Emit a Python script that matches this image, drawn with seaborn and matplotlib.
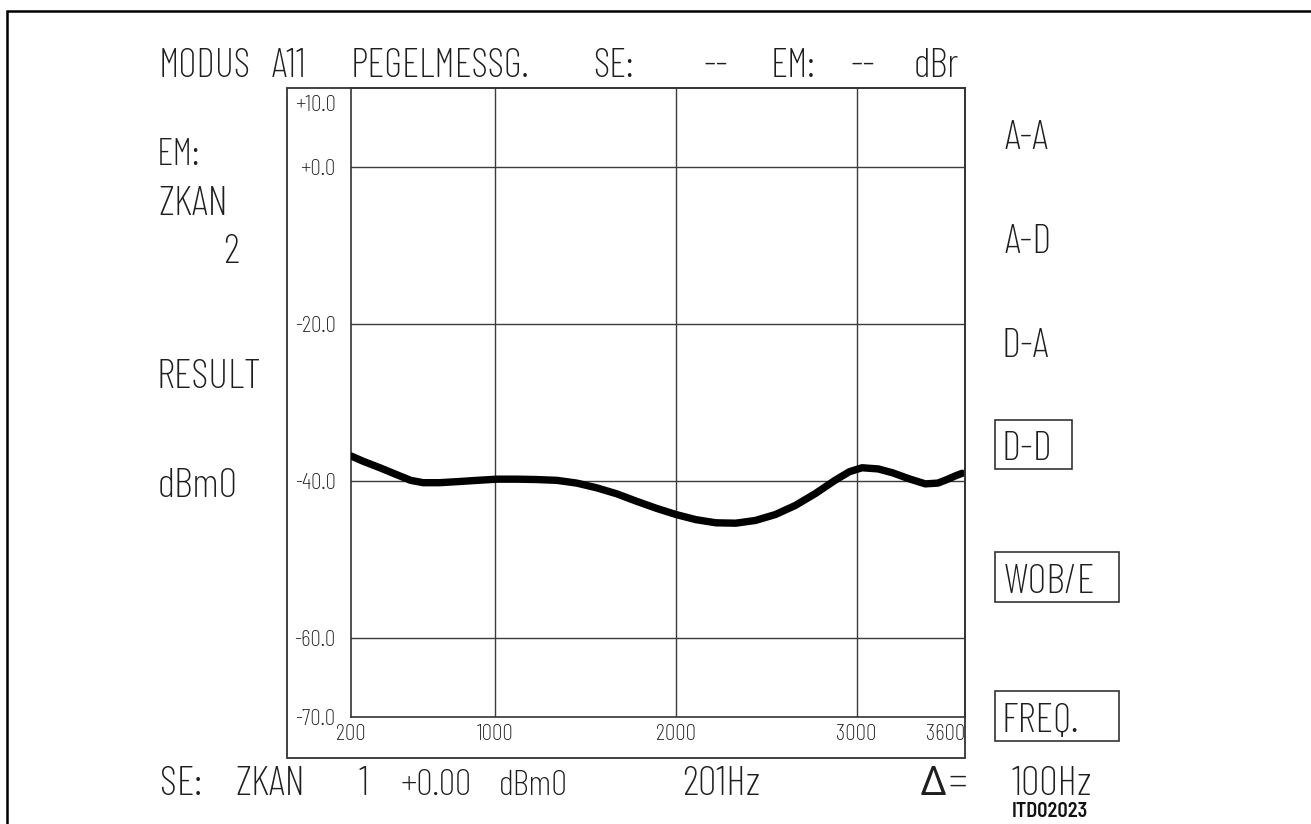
import numpy as np
import pandas as pd
import matplotlib
matplotlib.use("Agg")
import matplotlib.pyplot as plt
import seaborn as sns
from matplotlib import font_manager as fm
from matplotlib.font_manager import FontProperties
from matplotlib.textpath import TextPath
from matplotlib.patches import Rectangle
from matplotlib.lines import Line2D
from matplotlib.transforms import ScaledTranslation

# ---------------- data ----------------
freq_hz = [200, 270, 360, 450, 530, 600, 690, 800, 900, 1010, 1120, 1230,
           1340, 1450, 1560, 1670, 1780, 1890, 2000, 2110, 2220, 2330, 2440,
           2550, 2660, 2770, 2880, 2960, 3030, 3120, 3200, 3290, 3380, 3450,
           3500, 3550, 3585]
level_dbm0 = [-36.8, -37.5, -38.3, -39.15, -39.9, -40.2, -40.2, -40.05, -39.9,
              -39.75, -39.75, -39.8, -39.9, -40.25, -40.85, -41.6, -42.55,
              -43.45, -44.25, -44.9, -45.3, -45.35, -45.0, -44.25, -43.1,
              -41.6, -39.9, -38.8, -38.3, -38.45, -38.95, -39.7, -40.35,
              -40.25, -39.8, -39.3, -39.0]

y_ticks = [10, 0, -20, -40, -60, -70]
y_tick_labels = ["+10.0", "+0.0", "-20.0", "-40.0", "-60.0", "-70.0"]
y_grid = [0, -20, -40, -60]
x_ticks = [200, 1000, 2000, 3000, 3600]
x_tick_labels = ["200", "1000", "2000", "3000", "3600"]
x_grid = [1000, 2000, 3000]

title_tokens = ["MODUS", "A11", "PEGELMESSG.", "SE:", "--", "EM:", "--", "dBr"]
left_tokens = ["EM:", "ZKAN", "2", "RESULT", "dBm0"]
right_tokens = ["A-A", "A-D", "D-A", "D-D", "WOB/E", "FREQ."]
boxed_right = ["D-D", "WOB/E", "FREQ."]
bottom_tokens = ["SE:", "ZKAN", "1", "+0.00", "dBm0", "201Hz", "=", "100Hz"]
delta_sign = "\u0394"
figure_id = "ITD02023"

# ---------------- style ----------------
sns.set_theme(style="white")
plt.rcParams.update({
    "axes.edgecolor": "#333333",
    "axes.linewidth": 1.2,
    "xtick.major.size": 0,
    "ytick.major.size": 0,
    "axes.unicode_minus": False,
    "figure.facecolor": "white",
    "axes.facecolor": "white",
})

W, H, DPI = 1311, 824, 100
PT = DPI / 72.0
TXT = "#1e1e1e"


def font_by_file(names, fallback):
    files = {f.fname.split("/")[-1]: f.fname for f in fm.fontManager.ttflist}
    for n in names:
        if n in files:
            return FontProperties(fname=files[n])
    return fallback


FONT = font_by_file(["BarlowCondensed-ExtraLight.ttf", "BarlowCondensed-Light.ttf",
                     "AsapCondensed-ExtraLight.ttf", "AsapCondensed-Light.ttf"],
                    FontProperties(family=["Roboto", "DejaVu Sans"], weight="light"))
ID_FONT = font_by_file(["BarlowSemiCondensed-SemiBold.ttf", "AsapCondensed-SemiBold.ttf"],
                       FontProperties(family="DejaVu Sans", weight="bold"))
DELTA_FONT = FontProperties(family=["Noto Sans", "DejaVu Sans"], weight="light")

fig = plt.figure(figsize=(W / DPI, H / DPI), dpi=DPI)


def fit_size(s, cap, width, fp=FONT, slack=1.06):
    cap1 = TextPath((0, 0), "H", size=1, prop=fp).get_extents().height
    e = TextPath((0, 0), s, size=1, prop=fp).get_extents()
    s_cap = cap / (cap1 * PT)
    s_w = width / (e.width * PT)
    return min(s_cap, s_w * slack), e


def put(x0, x1, base, s, cap, fp=FONT, slack=1.06, align="center", color=TXT):
    size, e = fit_size(s, cap, x1 - x0, fp, slack)
    p = fp.copy()
    p.set_size(size)
    ink_w = e.width * size * PT
    if align == "center":
        left = (x0 + x1) / 2 - ink_w / 2
    elif align == "left":
        left = x0
    else:
        left = x1 - ink_w
    xa = left - e.x0 * size * PT
    fig.text(xa / W, 1 - base / H, s, fontproperties=p, ha="left",
             va="baseline", color=color)


# ---------------- main chart ----------------
ax = fig.add_axes([351 / W, 1 - 717 / H, 614 / W, 629 / H])
for g in y_grid:
    ax.axhline(g, color="#3c3c3c", lw=1.0, zorder=1)
for g in x_grid:
    ax.axvline(g, color="#3c3c3c", lw=1.0, zorder=1)

sns.lineplot(x=freq_hz, y=level_dbm0, ax=ax, color="black", linewidth=5.3,
             estimator=None, zorder=3)
ax.set_xlim(200, 3600)
ax.set_ylim(-70, 10)
ax.set_xlabel("")
ax.set_ylabel("")
for sp in ax.spines.values():
    sp.set_visible(True)
    sp.set_color("#333333")
    sp.set_linewidth(1.2)

tick_size, _ = fit_size("1000", 17, 33, slack=1.05)
tick_fp = FONT.copy()
tick_fp.set_size(tick_size)
ax.set_yticks(y_ticks, labels=y_tick_labels)
ax.set_xticks(x_ticks, labels=x_tick_labels)
ax.tick_params(axis="y", pad=11)
ax.tick_params(axis="x", pad=5)
for lab in ax.get_yticklabels() + ax.get_xticklabels():
    lab.set_fontproperties(tick_fp)
    lab.set_color(TXT)
top_lab = ax.yaxis.get_major_ticks()[0].label1
top_lab.set_va("top")
top_lab.set_transform(top_lab.get_transform()
                      + ScaledTranslation(0, -7 / DPI, fig.dpi_scale_trans))
ax.get_xticklabels()[-1].set_ha("right")

# outer box of the chart (label column + label row)
fig.add_artist(Rectangle((287 / W, 1 - 758 / H), (965 - 287) / W, (758 - 88) / H,
                         transform=fig.transFigure, fill=False,
                         edgecolor="#333333", lw=1.3, zorder=5))

# page border (top and left)
fig.add_artist(Line2D([7 / W, 7 / W, 1.0], [0.0, 1 - 11 / H, 1 - 11 / H],
                      transform=fig.transFigure, color="black", lw=1.8,
                      solid_joinstyle="miter"))

# ---------------- texts ----------------
CAPT = 28
title_pos = [(160, 250), (266, 309), (348, 534), (585, 641), (694, 737),
             (771, 816), (846, 880), (912, 963)]
for tok, (a, b) in zip(title_tokens, title_pos):
    put(a, b, 77, tok, CAPT)

left_pos = [(160, 196, 165), (160, 238, 215), (222, 238, 263),
            (160, 277, 388), (160, 235, 497)]
for tok, (a, b, base) in zip(left_tokens, left_pos):
    put(a, b, base, tok, 29, align="left" if tok != "2" else "right")

right_pos = [(1005, 1063, 149), (1005, 1063, 253), (1005, 1063, 357),
             (1005, 1063, 460), (1005, 1110, 593), (1005, 1092, 732)]
for tok, (a, b, base) in zip(right_tokens, right_pos):
    put(a, b, base, tok, 29, align="left")

box_pos = {"D-D": (995, 420, 1072, 469), "WOB/E": (995, 552, 1119, 602),
           "FREQ.": (995, 691, 1119, 741)}
for tok in boxed_right:
    x0, y0, x1, y1 = box_pos[tok]
    fig.add_artist(Rectangle((x0 / W, 1 - y1 / H), (x1 - x0) / W, (y1 - y0) / H,
                             transform=fig.transFigure, fill=False,
                             edgecolor="#333333", lw=1.2))

bottom_pos = [(159, 203), (229, 309), (356, 369), (404, 468), (503, 564),
              (682, 761), (948, 968), (1010, 1093)]
for tok, (a, b) in zip(bottom_tokens, bottom_pos):
    put(a, b, 795, tok, 29)
put(922, 945, 795, delta_sign, 28, fp=DELTA_FONT, slack=1.25)

put(1013, 1087, 817, figure_id, 15, fp=ID_FONT, slack=1.0, color="#111111")

fig.savefig("out.png", dpi=DPI, facecolor="white")
